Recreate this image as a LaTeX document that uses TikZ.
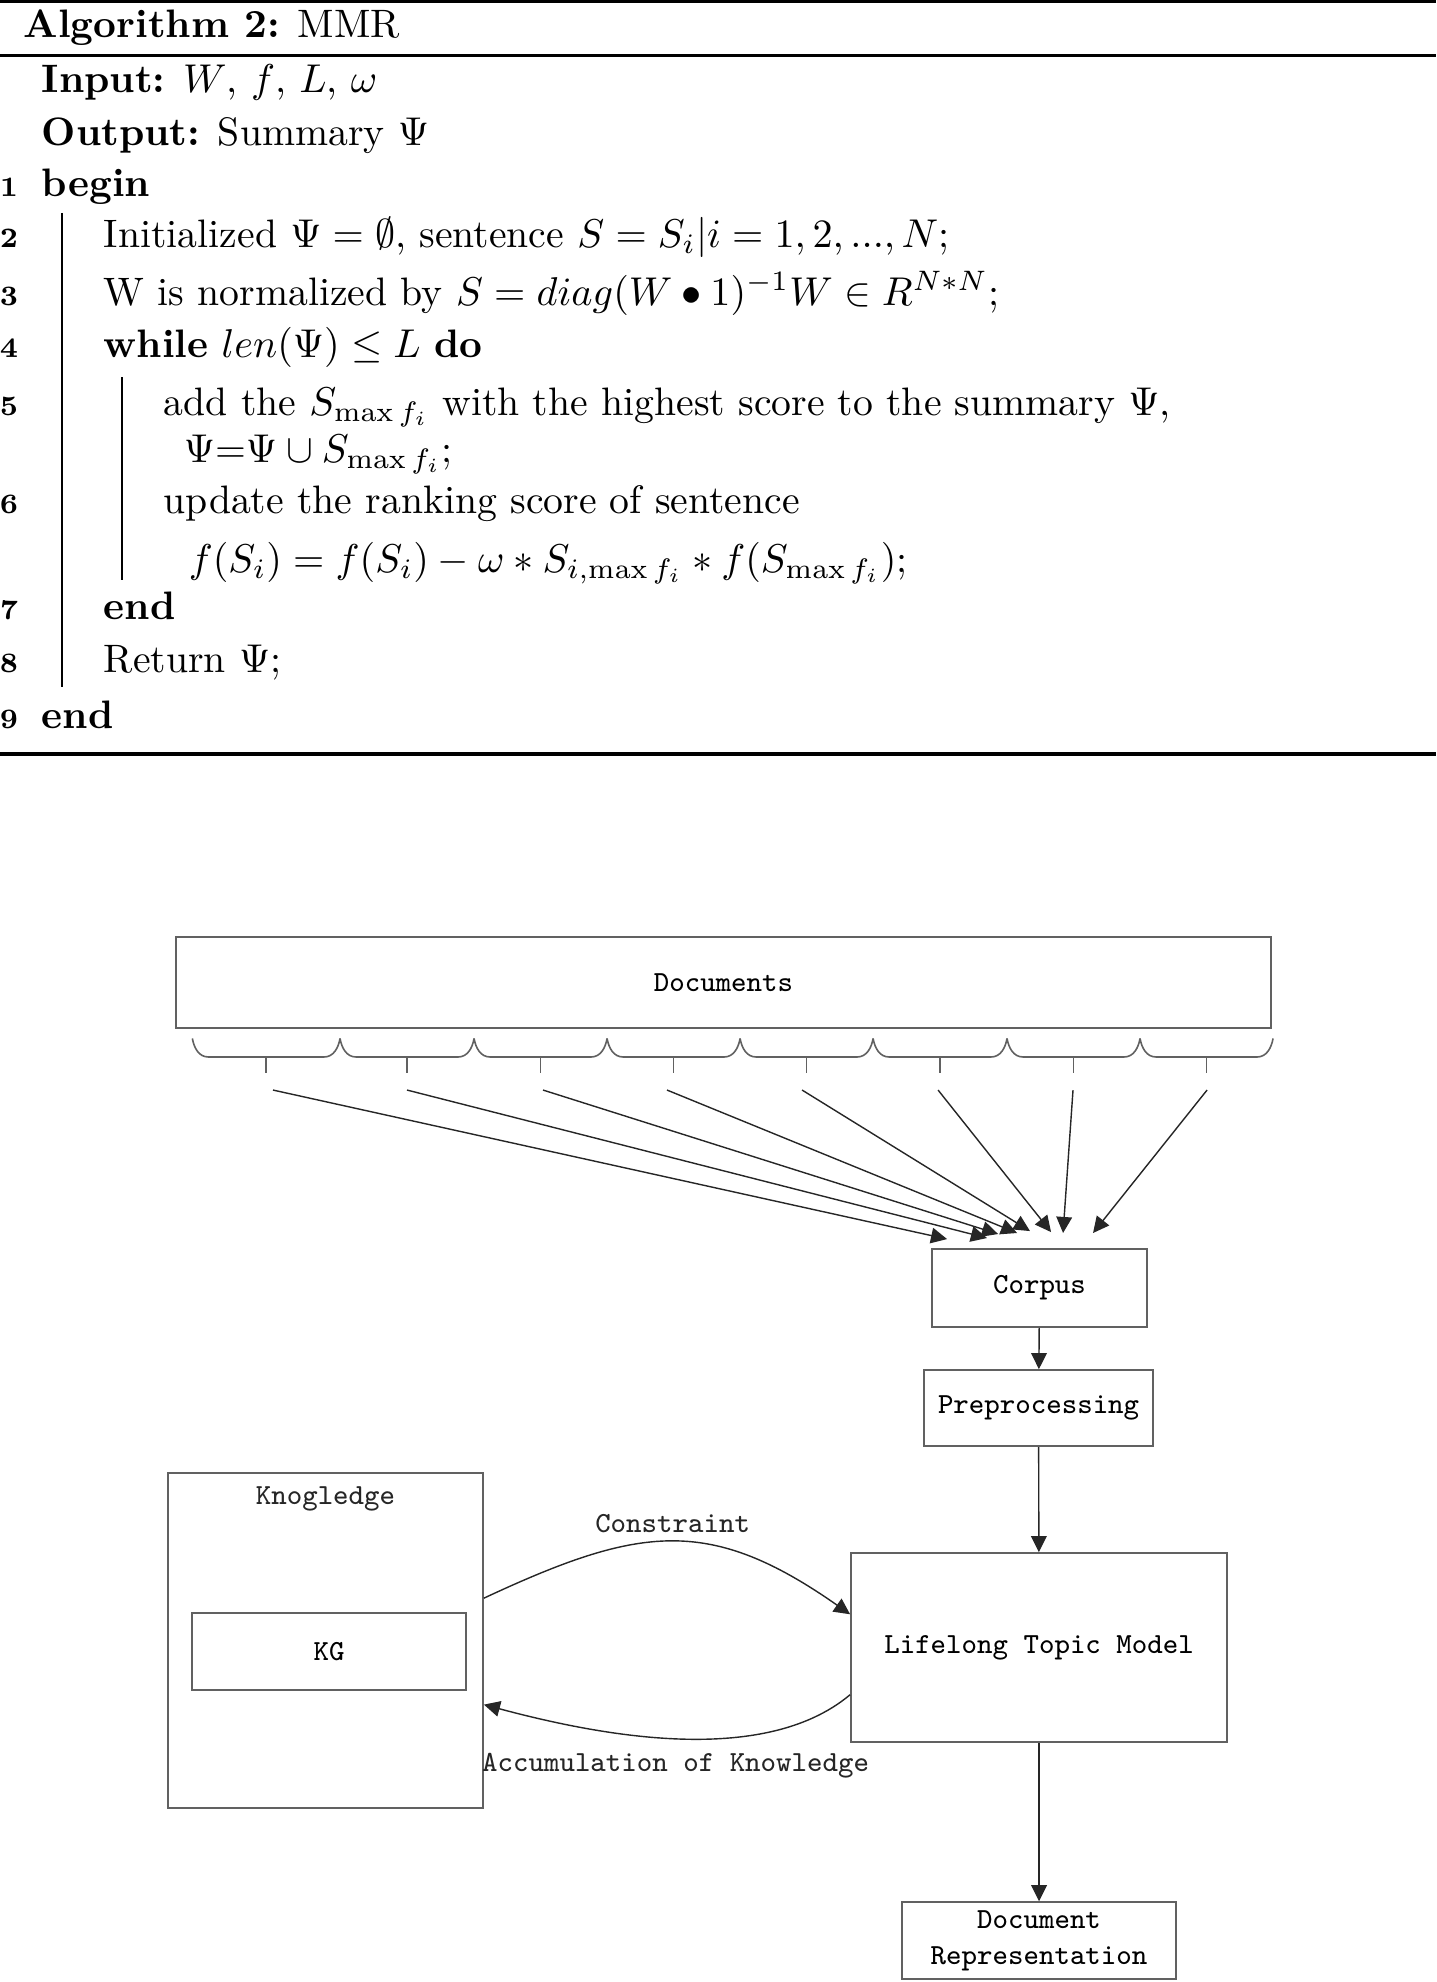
\documentclass[tikz,border=0pt]{standalone}
\usepackage{amssymb}
\usepackage{amsmath}
\usepackage{xcolor}
\usepackage{tikz}
\usetikzlibrary{arrows.meta,positioning}
\colorlet{flowgray}{black!62}
\colorlet{flowink}{black!85}
\newcommand{\flowfont}{\ttfamily\fontsize{7.25}{8.9}\selectfont}
\tikzset{
  algtext/.style={anchor=base west,inner sep=0pt,font=\fontsize{9.88}{12}\selectfont},
  algnum/.style={anchor=base east,inner sep=0pt,font=\bfseries\scriptsize},
  algrule/.style={line width=0.8pt},
  algbar/.style={line width=0.4pt},
  flowbox/.style={draw=flowgray,line width=0.45pt,align=center,
                  font=\flowfont,inner sep=2pt},
  flowlabel/.style={font=\flowfont,inner sep=2pt,text=flowink},
  flowarrow/.style={-{Triangle[length=4pt,width=3.9pt]},flowink,line width=0.35pt},
  docbrace/.style={flowgray,line width=0.4pt}
}

\begin{document}
\begin{tikzpicture}[x=1cm,y=1cm]
  \useasboundingbox (0,0) rectangle (12.556,-17.330);

  % algorithm
  \draw[algrule] (0,-0.014) -- (12.556,-0.014);
  \draw[algrule] (0,-0.488) -- (12.556,-0.488);
  \draw[algrule] (0,-6.593) -- (12.556,-6.593);
  \node[algtext] (algcap) at (0.201,-0.332) {\textbf{Algorithm 2:} MMR};
  \node[algtext] (algin) at (0.358,-0.813) {\textbf{Input:} $W$, $f$, $L$, $\omega$};
  \node[algtext] (algout) at (0.358,-1.268) {\textbf{Output:} Summary $\Psi$};

  \node[algnum] (n1) at (0.166,-1.714) {1};
  \node[algnum] (n2) at (0.166,-2.168) {2};
  \node[algnum] (n3) at (0.166,-2.667) {3};
  \node[algnum] (n4) at (0.166,-3.130) {4};
  \node[algnum] (n5) at (0.166,-3.629) {5};
  \node[algnum] (n6) at (0.166,-4.486) {6};
  \node[algnum] (n7) at (0.166,-5.421) {7};
  \node[algnum] (n8) at (0.166,-5.876) {8};
  \node[algnum] (n9) at (0.166,-6.366) {9};

  \node[algtext] (l1) at (0.358,-1.714) {\textbf{begin}};
  \node[algtext] (l2) at (0.901,-2.168) {Initialized $\Psi=\emptyset$, sentence $S=S_i|i=1,2,...,N$;};
  \node[algtext] (l3) at (0.901,-2.667) {W is normalized by $S=diag(W\bullet 1)^{-1}W\in R^{N*N}$;};
  \node[algtext] (l4) at (0.901,-3.130) {\textbf{while} $len(\Psi)\leq L$ \textbf{do}};
  \node[algtext] (l5) at (1.425,-3.629) {add the $S_{\max f_i}$ with the highest score to the summary $\Psi$,};
  \node[algtext] (l5b) at (1.600,-4.040) {$\Psi$=$\Psi\cup S_{\max f_i}$;};
  \node[algtext] (l6) at (1.425,-4.486) {update the ranking score of sentence};
  \node[algtext] (l6b) at (1.644,-5.002) {$f(S_i)=f(S_i)-\omega*S_{i,\max f_i}*f(S_{\max f_i})$;};
  \node[algtext] (l7) at (0.901,-5.421) {\textbf{end}};
  \node[algtext] (l8) at (0.901,-5.876) {Return $\Psi$;};
  \node[algtext] (l9) at (0.358,-6.366) {\textbf{end}};

  \draw[algbar] (0.542,-1.862) -- (0.542,-6.007);
  \draw[algbar] (1.067,-3.297) -- (1.067,-5.072);

  % flow chart
  \node[flowbox,minimum width=9.575cm,minimum height=0.796cm] (docs) at (6.326,-8.591) {Documents};

  \foreach \a/\b in {1.682/2.973,2.973/4.145,4.145/5.308,5.308/6.471,
                     6.471/7.634,7.634/8.805,8.805/9.968,9.968/11.131}{
    \draw[docbrace] (\a,-9.08) to[out=-80,in=180] (\a+0.14,-9.242)
      -- (\b-0.14,-9.242) to[out=0,in=-100] (\b,-9.08);
    \draw[docbrace] ({(\a+\b)/2},-9.242) -- ++(0,-0.14);
  }

  \node[flowbox,minimum width=1.880cm,minimum height=0.682cm] (corpus) at (9.089,-11.262) {Corpus};
  \node[flowbox,minimum width=2.002cm,minimum height=0.665cm] (prep) at (9.081,-12.312) {Preprocessing};
  \node[flowbox,minimum width=3.288cm,minimum height=1.653cm] (ltm) at (9.085,-14.406) {Lifelong Topic Model};
  \node[flowbox,minimum width=2.754cm,minimum height=2.929cm] (kn) at (2.846,-14.345) {};
  \node[flowlabel,below=1.5pt of kn.north] (kntitle) {Knogledge};
  \node[flowbox,minimum width=2.396cm,minimum height=0.673cm] (kg) at (2.877,-14.441) {KG};
  \node[flowbox,minimum width=2.396cm,minimum height=0.673cm] (docrep) at (9.085,-16.968) {Document\\Representation};

  \foreach \sx/\tx/\ty [count=\i] in {2.387/8.281/10.834,3.559/8.630/10.825,
      4.748/8.727/10.790,5.832/8.893/10.781,7.013/9.006/10.764,
      8.202/9.190/10.773,9.382/9.295/10.781,10.554/9.557/10.781}{
    \coordinate (s\i) at (\sx,-9.531);
    \coordinate (t\i) at (\tx,-\ty);
    \draw[flowarrow] (s\i) -- (t\i);
  }

  \draw[flowarrow] (corpus) -- (prep);
  \draw[flowarrow] (prep) -- (ltm);
  \draw[flowarrow] (ltm) -- (docrep);

  \draw[flowarrow] (kn.15) to[out=25,in=145,looseness=1.2]
    node[flowlabel,midway,above] {Constraint} (ltm.170);
  \draw[flowarrow] (ltm.194) to[out=-140,in=-15,looseness=0.8]
    node[flowlabel,midway,below,yshift=-1.5pt] {Accumulation of Knowledge} (kn.-22);
\end{tikzpicture}
\end{document}
